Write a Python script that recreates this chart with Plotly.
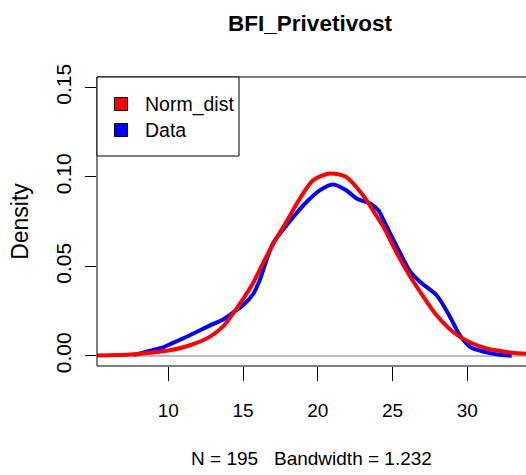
import plotly.graph_objects as go

# ---- data ----
chart_title = "BFI_Privetivost"
x_label = "N = 195\u00a0\u00a0\u00a0Bandwidth = 1.232"
y_label = "Density"
series_names = ["Norm_dist", "Data"]

norm_x = [5.23, 6.5, 7.7, 8.8, 10.1, 11.45, 12.8, 13.7, 14.35, 15.0, 15.7, 16.4, 17.1,
          17.9, 18.8, 19.7, 20.8, 21.9, 23.0, 23.9, 24.4, 25.3, 26.2, 26.85, 27.95,
          29.05, 30.2, 31.3, 32.2, 33.0, 33.93]
norm_y = [0.0002, 0.0005, 0.0010, 0.0018, 0.0032, 0.0060, 0.0108, 0.0168, 0.0240, 0.0318,
          0.0412, 0.0530, 0.0638, 0.0750, 0.0879, 0.0982, 0.1019, 0.1000, 0.0900, 0.0786,
          0.0720, 0.0572, 0.0441, 0.0358, 0.0227, 0.0134, 0.0075, 0.0042, 0.0028, 0.0018,
          0.0012]

data_x = [7.7, 8.6, 9.7, 10.1, 11.45, 12.8, 13.7, 14.35, 15.0, 15.7, 16.1, 17.0, 18.1,
          18.6, 19.25, 20.15, 21.0, 21.9, 22.6, 23.5, 24.05, 24.4, 25.3, 26.2, 26.85,
          27.95, 28.85, 29.5, 30.2, 31.3, 32.3, 32.97]
data_y = [0.0005, 0.0026, 0.0050, 0.0065, 0.0116, 0.0171, 0.0205, 0.0244, 0.0283, 0.0349,
          0.0420, 0.0628, 0.0749, 0.0800, 0.0860, 0.0926, 0.0958, 0.0926, 0.0879, 0.0851,
          0.0814, 0.0758, 0.0609, 0.0469, 0.0413, 0.0339, 0.0218, 0.0116, 0.0050, 0.0020,
          0.0005, 0.0001]

x_ticks = [10, 15, 20, 25, 30]
x_tick_labels = ["10", "15", "20", "25", "30"]
y_ticks = [0.0, 0.05, 0.10, 0.15]
y_tick_labels = ["0.00", "0.05", "0.10", "0.15"]

series_colors = ["#FF0000", "#0000FF"]

# ---- layout geometry (pixels) ----
W, H = 526, 475
L, R, T, B = 97, 0, 77, 109
PW, PH = W - L - R, H - T - B

def px(xp):
    return (xp - L) / PW

def py(yp):
    return (H - B - yp) / PH

FONT = "Liberation Sans, Arial, sans-serif"

fig = go.Figure()
fig.add_trace(go.Scatter(x=data_x, y=data_y, mode="lines", name=series_names[1],
                         line=dict(color=series_colors[1], width=4, shape="spline", smoothing=0.8),
                         showlegend=False, hoverinfo="skip"))
fig.add_trace(go.Scatter(x=norm_x, y=norm_y, mode="lines", name=series_names[0],
                         line=dict(color=series_colors[0], width=4, shape="spline", smoothing=0.8),
                         showlegend=False, hoverinfo="skip"))

shapes = [
    # plot box (right side runs off the picture)
    dict(type="rect", xref="paper", yref="paper", x0=0, x1=1.02, y0=0, y1=1,
         line=dict(color="black", width=1), fillcolor="rgba(0,0,0,0)", layer="above"),
    # legend box
    dict(type="rect", xref="paper", yref="paper", x0=0, x1=px(239), y0=py(156), y1=1,
         line=dict(color="black", width=1), fillcolor="white", layer="above"),
]
annotations = []
legend_rows = [104, 130]
for name, col, yc in zip(series_names, series_colors, legend_rows):
    shapes.append(dict(type="rect", xref="paper", yref="paper",
                       x0=px(114.5), x1=px(127.5), y0=py(yc + 6.5), y1=py(yc - 6.5),
                       line=dict(color="black", width=1), fillcolor=col, layer="above"))
    annotations.append(dict(text=name, xref="paper", yref="paper", x=px(143), y=py(yc),
                            xanchor="left", yanchor="middle", showarrow=False,
                            font=dict(family=FONT, size=19.5, color="black")))

fig.update_layout(
    width=W, height=H,
    margin=dict(l=L, r=R, t=T, b=B, autoexpand=False),
    paper_bgcolor="white", plot_bgcolor="white",
    showlegend=False,
    title=dict(text="<b>" + chart_title + "</b>", xref="container", yref="container",
               x=310 / W, y=1 - 23 / H, xanchor="center", yanchor="middle",
               font=dict(family=FONT, size=22.5, color="black")),
    xaxis=dict(range=[5.23, 33.93], tickvals=x_ticks, ticktext=x_tick_labels,
               ticks="outside", ticklen=14, tickwidth=1, tickcolor="black",
               showgrid=False, zeroline=False, showline=False,
               tickfont=dict(family=FONT, size=19, color="black"),
               ticklabelstandoff=13,
               title=dict(text=x_label, standoff=31,
                          font=dict(family=FONT, size=19, color="black"))),
    yaxis=dict(range=[-0.0056, 0.1558], tickvals=y_ticks, ticktext=y_tick_labels,
               ticks="outside", ticklen=11, tickwidth=1, tickcolor="black",
               showgrid=False, zeroline=True, zerolinecolor="#BEBEBE", zerolinewidth=1.5,
               showline=False, tickangle=-90,
               tickfont=dict(family=FONT, size=21, color="black"),
               ticklabelstandoff=6,
               title=dict(text=y_label, standoff=16,
                          font=dict(family=FONT, size=23, color="black"))),
    shapes=shapes,
    annotations=annotations,
)

fig.write_html("out.html", config={"displayModeBar": False, "staticPlot": True},
               post_script="document.body.style.margin='0px';")
